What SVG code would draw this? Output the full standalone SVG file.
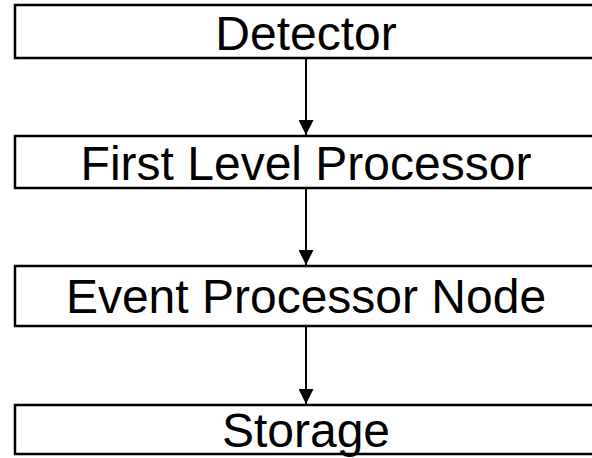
<svg xmlns="http://www.w3.org/2000/svg" width="592" height="458" viewBox="0 0 592 458">
<style>
.box{fill:#fff;stroke:#000;stroke-width:2.5}
.lbl{font-family:"Liberation Sans",Arial,sans-serif;font-size:48px;fill:#000;text-anchor:middle}
.conn{stroke:#000;stroke-width:2;fill:none}
</style>
<defs>
<marker id="ah" markerWidth="15" markerHeight="15" viewBox="0 0 15 15" refX="15" refY="7.5" orient="auto" markerUnits="userSpaceOnUse">
<path d="M0,0 L15,7.5 L0,15 z" fill="#000"/>
</marker>
</defs>
<rect width="592" height="458" fill="#fff"/>
<g id="detector"><rect class="box" x="15" y="5" width="582" height="53"/><text class="lbl" x="306" y="50">Detector</text></g>
<g id="flp"><rect class="box" x="15" y="136" width="582" height="52"/><text class="lbl" x="306" y="180">First Level Processor</text></g>
<g id="epn"><rect class="box" x="15" y="266" width="582" height="60"/><text class="lbl" x="306" y="313">Event Processor Node</text></g>
<g id="storage"><rect class="box" x="15" y="405" width="582" height="49"/><text class="lbl" x="306" y="447">Storage</text></g>
<g id="connectors">
<line class="conn" x1="306" y1="59" x2="306" y2="135" marker-end="url(#ah)"/>
<line class="conn" x1="306" y1="189" x2="306" y2="265" marker-end="url(#ah)"/>
<line class="conn" x1="306" y1="327" x2="306" y2="404" marker-end="url(#ah)"/>
</g>
</svg>
